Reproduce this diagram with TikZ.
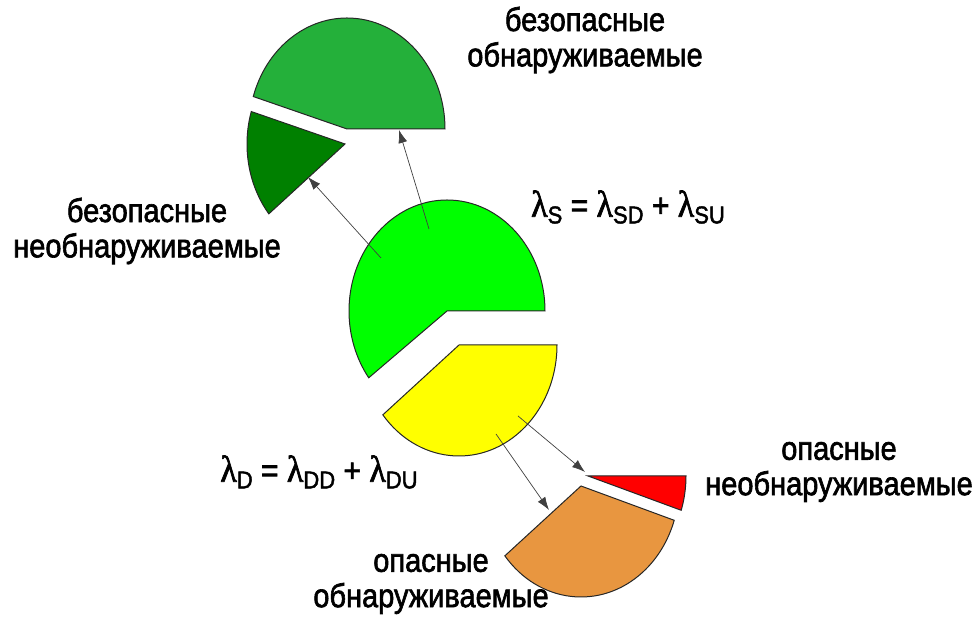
\documentclass[tikz,border=0pt]{standalone}
\usepackage{fontspec}
\setmainfont{Liberation Sans}[UprightFeatures={FakeBold=2}]
\newfontfamily\grkfont{Liberation Serif}[UprightFeatures={FakeBold=2}]
\usepackage{xcolor}
\usepackage{tikz}
\usetikzlibrary{arrows.meta}

\definecolor{sgreen}{RGB}{0,255,0}
\definecolor{sdgreen}{RGB}{36,176,58}
\definecolor{sugreen}{RGB}{0,128,0}
\definecolor{dyellow}{RGB}{255,255,0}
\definecolor{dured}{RGB}{255,0,0}
\definecolor{ddorange}{RGB}{232,150,64}

\newcommand{\lamsub}[1]{{\grkfont\fontsize{34}{34}\selectfont λ}\raisebox{-6pt}{\fontsize{22}{22}\selectfont #1}}

\begin{document}
\begin{tikzpicture}[
    x=1pt, y=1pt,
    piece/.style={draw=black!85, line width=1pt},
    link/.style={draw=black!75, line width=0.7pt, -{Latex[length=13pt, width=9pt]}},
    lbl/.style={align=center, yscale=1.14, font=\fontsize{29}{31}\selectfont},
    eq/.style={yscale=1.1, font=\fontsize{30}{30}\selectfont}
]
\useasboundingbox (0,0) rectangle (978,617);

% Main pie: safe and dangerous
\draw[piece, fill=sgreen] (447,306) -- ++(0:98 and 111)
    arc[start angle=0, end angle=217, x radius=98, y radius=111] -- cycle;
\draw[piece, fill=dyellow] (459,272) -- ++(219:98 and 111)
    arc[start angle=219, end angle=360, x radius=98, y radius=111] -- cycle;

% Safe split
\draw[piece, fill=sdgreen] (347,488) -- ++(0:98 and 111)
    arc[start angle=0, end angle=163, x radius=98, y radius=111] -- cycle;
\draw[piece, fill=sugreen] (345,473) -- ++(163:98 and 111)
    arc[start angle=163, end angle=219, x radius=98, y radius=111] -- cycle;

% Dangerous split
\draw[piece, fill=dured] (588,141) -- ++(342:98 and 111)
    arc[start angle=342, end angle=360, x radius=98, y radius=111] -- cycle;
\draw[piece, fill=ddorange] (581,131) -- ++(219:98 and 111)
    arc[start angle=219, end angle=342, x radius=98, y radius=111] -- cycle;

% Arrow ends
\coordinate (s1) at (429,388);
\coordinate (sd) at (399,487);
\coordinate (s2) at (381,359);
\coordinate (su) at (308,440);
\coordinate (d1) at (518,201);
\coordinate (du) at (585,145);
\coordinate (d2) at (496,183);
\coordinate (dd) at (549,107);

\draw[link] (s1) -- (sd);
\draw[link] (s2) -- (su);
\draw[link] (d1) -- (du);
\draw[link] (d2) -- (dd);

% Labels
\node[lbl] (sdtext) at (585,577) {безопасные\\обнаруживаемые};
\node[lbl] (sutext) at (147,386) {безопасные\\необнаруживаемые};
\node[lbl] (dutext) at (839,145) {опасные\\необнаруживаемые};
\node[lbl] (ddtext) at (431,33) {опасные\\обнаруживаемые};

% Rates
\node[eq] (seq) at (628,410) {\lamsub{S} = \lamsub{SD} + \lamsub{SU}};
\node[eq] (deq) at (319,145) {\lamsub{D} = \lamsub{DD} + \lamsub{DU}};

\end{tikzpicture}
\end{document}
